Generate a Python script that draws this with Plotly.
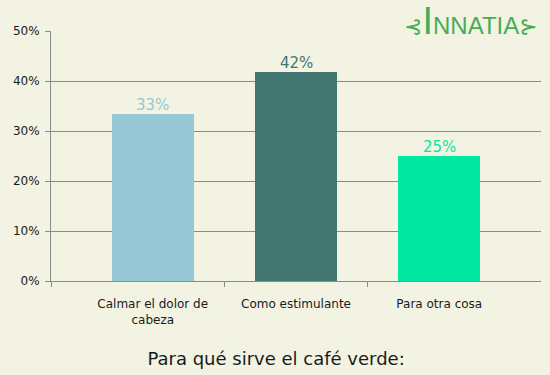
import plotly.graph_objects as go

categories = ["Calmar el dolor de<br>cabeza", "Como estimulante", "Para otra cosa"]
values = [33.4, 41.8, 25.1]
bar_colors = ["#96C8D5", "#427671", "#00E8A2"]
y_ticks = [0, 10, 20, 30, 40, 50]
y_tick_text = ["0%", "10%", "20%", "30%", "40%", "50%"]
title_text = "Para qué sirve el café verde:"
logo_text = "INNATIA"

BG = "#F3F3E3"
GRID = "#8A8A8A"
FONT = "DejaVu Sans, Verdana, sans-serif"

x_pos = list(range(len(categories)))

fig = go.Figure()
fig.add_trace(go.Bar(
    x=x_pos,
    y=values,
    width=0.57,
    marker=dict(color=bar_colors, line=dict(width=0)),
    hoverinfo="skip",
))

for xi, v, c in zip(x_pos, values, bar_colors):
    fig.add_annotation(
        x=xi, y=v, xref="x", yref="y",
        text=f"{v:.0f}%",
        showarrow=False,
        xanchor="center", yanchor="middle",
        yshift=9,
        font=dict(family=FONT, size=15, color=c),
    )

fig.update_layout(
    width=550,
    height=375,
    margin=dict(l=51, r=9, t=31, b=94),
    paper_bgcolor=BG,
    plot_bgcolor=BG,
    showlegend=False,
    bargap=0,
    font=dict(family=FONT, color="#1a1a1a"),
    title=dict(
        text=title_text,
        x=0.502, xref="container", xanchor="center",
        y=0.044, yref="container", yanchor="middle",
        font=dict(family=FONT, size=18, color="#1a1a1a"),
    ),
    xaxis=dict(
        range=[-0.71, 2.71],
        tickmode="array",
        tickvals=x_pos,
        ticktext=categories,
        ticks="",
        ticklen=0,
        ticklabelstandoff=12,
        tickfont=dict(family=FONT, size=12, color="#1a1a1a"),
        showgrid=False,
        showline=True,
        linecolor=GRID,
        linewidth=1,
        zeroline=False,
        minor=dict(
            tickmode="array",
            tickvals=[-0.71, 0.5, 1.5],
            ticks="outside",
            ticklen=5,
            tickcolor=GRID,
            tickwidth=1,
            showgrid=False,
        ),
        fixedrange=True,
    ),
    yaxis=dict(
        range=[0, 50],
        tickmode="array",
        tickvals=y_ticks,
        ticktext=y_tick_text,
        ticks="outside",
        ticklen=5,
        tickcolor=GRID,
        tickwidth=1,
        tickfont=dict(family=FONT, size=12, color="#1a1a1a"),
        ticklabelstandoff=3,
        showgrid=True,
        gridcolor=GRID,
        gridwidth=1,
        showline=True,
        linecolor=GRID,
        linewidth=1,
        zeroline=False,
        fixedrange=True,
    ),
)

fig.add_annotation(
    text=("<span style='font-size:22px'>⊰</span>"
          "<span style='font-size:38px'>" + logo_text[0] + "</span>" + logo_text[1:] +
          "<span style='font-size:22px'>⊱</span>"),
    xref="paper", yref="paper",
    x=0.857, y=1.0,
    xanchor="center", yanchor="middle",
    yshift=10,
    showarrow=False,
    font=dict(family="Liberation Sans, DejaVu Sans, sans-serif", size=24, color="#45AE55"),
)

fig.write_html(
    "out.html",
    config={"displayModeBar": False},
    post_script="document.body.style.margin='0';document.body.style.overflow='hidden';",
)
